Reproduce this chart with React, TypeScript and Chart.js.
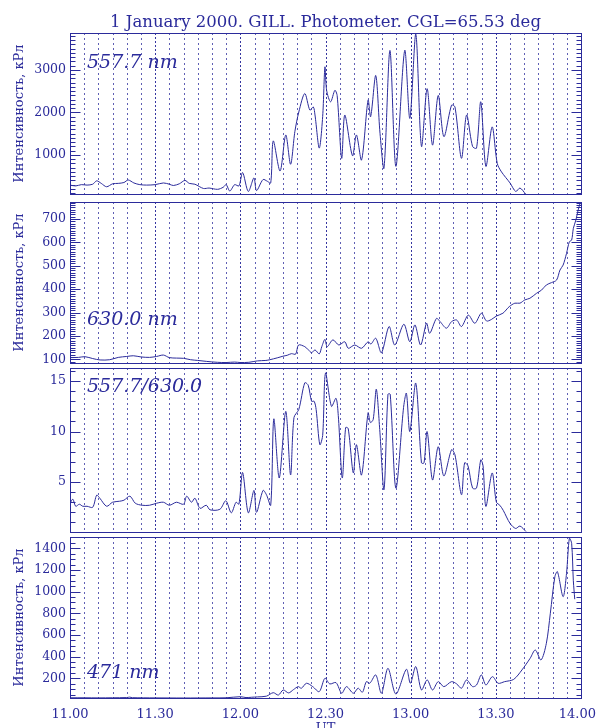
import React, { useEffect, useRef } from 'react';
import { Chart, registerables } from 'chart.js';

Chart.register(...registerables);

const BLUE = '#2b2b9b';
const SERIF = '"DejaVu Serif", "Liberation Serif", serif';

const TITLE = '1 January 2000. GILL. Photometer. CGL=65.53 deg';
const Y_TITLE = 'Интенсивность, кРл';
const X_TITLE = 'UT';

// x axis: minutes after 11:00 UT
const X_MIN = 0;
const X_MAX = 180;
const X_TICKS = [0, 30, 60, 90, 120, 150, 180];
const X_TICK_LABELS = ['11.00', '11.30', '12.00', '12.30', '13.00', '13.30', '14.00'];
const GRID_STEP = 5;

// 557.7 nm
const T_5577 = [0, 2, 4, 6, 8, 9.4, 11, 12.9, 15, 17, 19, 20.5, 22.5, 24.6, 27, 30, 32.9, 35, 36.4, 38.5, 40.5, 42, 44, 47, 49, 52, 54, 55, 56.3, 58, 59.5, 60.8, 62.8, 64.8, 65.7, 68, 69.5, 70.7, 71.6, 74, 76, 77.7, 79.2, 80.6, 82.7, 84.5, 85.7, 86.3, 87.8, 89, 89.8, 90.4, 91.8, 93.3, 94.1, 95.7, 96.8, 99.5, 100.9, 102.7, 105, 105.9, 107.7, 109.2, 110.6, 112.7, 114.8, 117.9, 119.7, 121.8, 123.8, 125.8, 127.7, 129.7, 131.7, 134.4, 135.6, 137.9, 139.7, 141.8, 143.2, 144.7, 146.5, 148.7, 150.5, 152, 155, 157, 158.5, 160.6];
const V_5577 = [290, 270, 300, 290, 310, 390, 330, 250, 320, 330, 350, 410, 340, 300, 290, 300, 340, 310, 280, 320, 400, 330, 310, 210, 220, 190, 240, 300, 150, 300, 270, 585, 140, 460, 160, 420, 380, 340, 1330, 620, 1470, 780, 1545, 2010, 2445, 2055, 2130, 1940, 1160, 1900, 3070, 2520, 2250, 2520, 2400, 920, 1940, 980, 1470, 880, 2290, 1900, 2870, 1510, 690, 3460, 730, 3460, 1860, 3850, 1200, 2560, 1230, 2400, 1430, 2170, 2130, 920, 1940, 1200, 1160, 2250, 730, 1660, 800, 600, 340, 140, 220, 70];

// 630.0 nm
const T_6300 = [0, 3, 5.3, 8, 10.6, 14, 17, 20, 22.3, 25, 28, 30.5, 32.9, 35, 37.5, 40, 42.5, 45, 48, 51.9, 55, 58, 60, 63, 66, 69, 70.4, 73, 75, 76.5, 78, 79.5, 80.5, 82.7, 84, 85.1, 86.3, 87.8, 88.7, 89.8, 90.6, 92.6, 94.7, 96.8, 98, 100.3, 102.7, 105, 106, 107.7, 109.7, 112.4, 114.4, 117.6, 119.7, 121.5, 123.5, 125.6, 126.7, 129.1, 130.3, 132.6, 134.4, 136.2, 137.9, 140.3, 142.6, 144.9, 146.7, 148.4, 150.2, 152.5, 154.7, 156.7, 158.5, 160.2, 162, 164.3, 166.1, 167.8, 169.6, 171.4, 172.6, 173.7, 174.9, 175.9, 176.7, 177.3, 178.2, 179, 179.8];
const V_6300 = [107, 108, 111, 103, 97, 98, 108, 112, 115, 110, 108, 112, 118, 107, 105, 104, 98, 95, 91, 87, 86, 88, 86, 87, 93, 95, 98, 106, 113, 117, 124, 122, 161, 154, 140, 128, 140, 123, 154, 185, 154, 183, 161, 175, 147, 161, 147, 175, 165, 190, 128, 240, 161, 250, 175, 247, 161, 254, 211, 275, 262, 233, 261, 268, 240, 289, 254, 297, 264, 270, 285, 297, 325, 340, 340, 354, 361, 382, 396, 418, 428, 439, 482, 503, 553, 603, 610, 660, 696, 739, 772];

// 557.7 / 630.0
const T_RATIO = [0, 1, 2, 3.3, 4.5, 6, 8, 9.4, 10.5, 12.9, 15, 17.5, 19, 21.1, 23, 25.4, 28, 30.5, 32.9, 35, 37.5, 40, 41.1, 42.8, 44, 45.8, 48, 49.3, 52.8, 54.9, 56.8, 58.5, 59.5, 60.8, 62.8, 64.8, 65.7, 68, 69.2, 70.7, 71.8, 73.7, 76, 77.7, 78.9, 80.6, 82.7, 83.9, 85.1, 86, 86.7, 88, 89, 90, 92.1, 93.7, 94.5, 95.9, 97.1, 98, 99.8, 100.9, 102.7, 105, 105.8, 106.8, 107.9, 109.1, 110.6, 112, 112.8, 114.8, 117.5, 118.5, 119.7, 121.8, 123.8, 124.7, 125.8, 127.7, 129.7, 131.7, 134.4, 135.6, 137.9, 139, 140.2, 141.8, 143.2, 144.7, 145.5, 146.5, 148.7, 150.2, 151.4, 152.6, 155, 157, 158.5, 160.6];
const V_RATIO = [2.9, 3.3, 2.6, 2.8, 2.6, 2.6, 2.5, 3.7, 3.4, 2.6, 3.0, 3.1, 3.2, 3.6, 2.9, 2.7, 2.7, 2.9, 3.0, 2.7, 3.0, 2.8, 3.6, 3.0, 3.4, 2.4, 2.7, 2.25, 2.3, 3.15, 1.95, 3.0, 2.8, 5.95, 1.95, 4.17, 2.0, 4.17, 3.74, 2.7, 11.26, 5.4, 12.0, 5.7, 11.4, 12.2, 14.83, 14.6, 13.0, 13.0, 12.2, 8.7, 9.6, 15.8, 12.5, 13.3, 11.6, 5.4, 10.4, 10.3, 5.9, 8.7, 5.7, 11.86, 10.9, 11.2, 14.2, 10.2, 4.24, 13.7, 13.7, 4.4, 12.4, 13.8, 10.0, 14.8, 6.9, 6.9, 10.0, 5.2, 8.5, 5.6, 8.2, 7.7, 3.74, 6.9, 6.6, 4.4, 4.4, 7.2, 6.6, 2.58, 5.9, 3.0, 2.7, 2.2, 0.9, 0.4, 0.64, 0.1];

// 471 nm
const T_471 = [0, 5, 10, 15, 20, 21, 22, 30, 40, 50, 55, 60, 62, 64, 66, 69.2, 71.6, 73.4, 75.1, 77, 78.7, 80.4, 81.5, 83.3, 85.5, 87.8, 89.8, 91.5, 93.7, 95.7, 97.4, 99.8, 101.5, 103, 104.4, 105.6, 107.7, 109.7, 112, 114.8, 118.5, 119.9, 121.8, 123.8, 125.8, 127.7, 129.7, 131.7, 134.4, 136.2, 137.9, 139.7, 141.8, 143.2, 144.9, 146.5, 148.8, 150.8, 153.1, 156.3, 159.2, 162.1, 163.9, 165.9, 167.8, 169.2, 170.8, 171.7, 173.7, 174.9, 175.9, 176.7, 177.3, 177.8];
const V_471 = [20, 20, 19, 20, 22, 26, 21, 19, 18, 19, 20, 30, 22, 25, 28, 35, 67, 45, 92, 65, 95, 123, 108, 154, 123, 77, 200, 148, 160, 62, 123, 62, 108, 71, 169, 154, 231, 62, 292, 55, 283, 154, 308, 92, 185, 92, 169, 123, 169, 148, 108, 185, 123, 138, 231, 138, 215, 154, 169, 190, 277, 385, 461, 369, 523, 800, 1138, 1184, 953, 1169, 1492, 1446, 1100, 930];

// y tick values / labels
const Y1_TICKS = [1000, 2000, 3000];
const Y1_LABELS = ['1000', '2000', '3000'];
const Y2_TICKS = [100, 200, 300, 400, 500, 600, 700];
const Y2_LABELS = ['100', '200', '300', '400', '500', '600', '700'];
const Y3_TICKS = [5, 10, 15];
const Y3_LABELS = ['5', '10', '15'];
const Y4_TICKS = [200, 400, 600, 800, 1000, 1200, 1400];
const Y4_LABELS = ['200', '400', '600', '800', '1000', '1200', '1400'];

const LABEL_5577 = '557.7 nm';
const LABEL_6300 = '630.0 nm';
const LABEL_RATIO = '557.7/630.0';
const LABEL_471 = '471 nm';

const W = 598;

type Panel = {
  times: number[]; values: number[]; min: number; max: number;
  yTicks: number[]; yLabels: string[]; minorStep: number; majorStep: number;
  label: string; labelOff: number; yTitle: boolean;
  canvasTop: number; canvasH: number; padTop: number; padBottom: number;
  title?: boolean; xLabels?: boolean;
};

const PANELS: Panel[] = [
  { times: T_5577, values: V_5577, min: 80, max: 3870, yTicks: Y1_TICKS, yLabels: Y1_LABELS, minorStep: 100, majorStep: 1000,
    label: LABEL_5577, labelOff: 35, yTitle: true, canvasTop: 0, canvasH: 200, padTop: 33, padBottom: 6, title: true },
  { times: T_6300, values: V_6300, min: 84, max: 773, yTicks: Y2_TICKS, yLabels: Y2_LABELS, minorStep: 10, majorStep: 100,
    label: LABEL_6300, labelOff: 123, yTitle: true, canvasTop: 198, canvasH: 168, padTop: 4, padBottom: 3 },
  { times: T_RATIO, values: V_RATIO, min: 0.05, max: 16.3, yTicks: Y3_TICKS, yLabels: Y3_LABELS, minorStep: 1, majorStep: 5,
    label: LABEL_RATIO, labelOff: 23.5, yTitle: false, canvasTop: 366, canvasH: 168, padTop: 2, padBottom: 2 },
  { times: T_471, values: V_471, min: 18, max: 1504, yTicks: Y4_TICKS, yLabels: Y4_LABELS, minorStep: 50, majorStep: 200,
    label: LABEL_471, labelOff: 141, yTitle: true, canvasTop: 534, canvasH: 194, padTop: 3, padBottom: 30, xLabels: true },
];

function makeDecor(p: Panel) {
  return {
    id: 'decor',
    beforeDatasetsDraw(chart: any) {
      const { ctx, chartArea: ca } = chart;
      const x = chart.scales.x;
      ctx.save();
      ctx.strokeStyle = BLUE;
      ctx.lineWidth = 1;
      for (let m = X_MIN + GRID_STEP; m < X_MAX; m += GRID_STEP) {
        const px = Math.round(x.getPixelForValue(m)) + 0.5;
        const major = X_TICKS.includes(m);
        ctx.setLineDash(major ? [2, 2] : [2, 3]);
        ctx.globalAlpha = major ? 0.95 : 0.75;
        ctx.beginPath();
        ctx.moveTo(px, ca.top);
        ctx.lineTo(px, ca.bottom);
        ctx.stroke();
      }
      ctx.restore();
    },
    afterDatasetsDraw(chart: any) {
      const { ctx, chartArea: ca } = chart;
      const y = chart.scales.y;
      const x = chart.scales.x;
      ctx.save();
      ctx.strokeStyle = BLUE;
      ctx.fillStyle = BLUE;
      ctx.lineWidth = 1;
      ctx.setLineDash([]);
      const L = Math.round(ca.left) + 0.5;
      const R = Math.round(ca.right) + 0.5;
      const T = Math.round(ca.top) + 0.5;
      const B = Math.round(ca.bottom) + 0.5;
      ctx.strokeRect(L, T, R - L, B - T);
      // y tick marks, both sides, pointing inward
      const k0 = Math.ceil(p.min / p.minorStep);
      for (let k = k0; k * p.minorStep <= p.max; k++) {
        const v = k * p.minorStep;
        const major = Math.abs(v / p.majorStep - Math.round(v / p.majorStep)) < 1e-6;
        const py = Math.round(y.getPixelForValue(v)) + 0.5;
        const len = major ? 10 : 5;
        ctx.beginPath();
        ctx.moveTo(L, py); ctx.lineTo(L + len, py);
        ctx.moveTo(R, py); ctx.lineTo(R - len, py);
        ctx.stroke();
      }
      // panel label
      ctx.font = `italic 19px ${SERIF}`;
      ctx.textAlign = 'left';
      ctx.textBaseline = 'alphabetic';
      ctx.fillText(p.label, ca.left + 17, ca.top + p.labelOff);
      if (p.title) {
        ctx.font = `16.5px ${SERIF}`;
        ctx.textAlign = 'center';
        ctx.fillText(TITLE, (ca.left + ca.right) / 2, 26.5);
      }
      if (p.xLabels) {
        ctx.font = `13px ${SERIF}`;
        ctx.textAlign = 'left';
        X_TICKS.forEach((t, i) => {
          const txt = X_TICK_LABELS[i];
          const w = ctx.measureText(txt).width;
          let left = x.getPixelForValue(t) - w / 2;
          if (left + w > W - 2) left = W - 2 - w;
          ctx.fillText(txt, left, ca.bottom + 19.5);
        });
        ctx.textAlign = 'center';
        ctx.fillText(X_TITLE, (ca.left + ca.right) / 2, ca.bottom + 34);
      }
      ctx.restore();
    },
  };
}

function makeConfig(p: Panel): any {
  return {
    type: 'line',
    data: {
      datasets: [{
        data: p.times.map((t, i) => ({ x: t, y: p.values[i] })),
        borderColor: BLUE,
        borderWidth: 1,
        pointRadius: 0,
        tension: 0.3,
        fill: false,
      }],
    },
    options: {
      animation: false,
      responsive: false,
      maintainAspectRatio: false,
      layout: { padding: { left: 0, right: W - 581, top: p.padTop, bottom: p.padBottom } },
      plugins: { legend: { display: false }, tooltip: { enabled: false }, title: { display: false } },
      scales: {
        x: { type: 'linear', min: X_MIN, max: X_MAX, display: false },
        y: {
          type: 'linear',
          min: p.min,
          max: p.max,
          afterBuildTicks: (s: any) => { s.ticks = p.yTicks.map((v) => ({ value: v })); },
          afterFit: (s: any) => {
            s.width = 70;
            s.paddingTop = 0; s.paddingBottom = 0; s.paddingLeft = 0; s.paddingRight = 0;
          },
          grid: { display: false, drawTicks: false },
          border: { display: false },
          ticks: {
            autoSkip: false,
            padding: 4,
            color: BLUE,
            font: { family: SERIF, size: 12.5 },
            callback: (_v: any, i: number) => p.yLabels[i],
          },
          title: {
            display: p.yTitle,
            text: Y_TITLE,
            color: BLUE,
            font: { family: SERIF, size: 13 },
            padding: { top: 12, bottom: 0 },
          },
        },
      },
    },
    plugins: [makeDecor(p)],
  };
}

export default function App() {
  const refs = useRef<(HTMLCanvasElement | null)[]>([]);
  useEffect(() => {
    const charts = PANELS.map((p, i) => new Chart(refs.current[i] as HTMLCanvasElement, makeConfig(p)));
    return () => charts.forEach((c) => c.destroy());
  }, []);
  return (
    <div style={{ position: 'absolute', left: 0, top: 0, width: W, height: 728, background: '#fff', overflow: 'hidden' }}>
      {PANELS.map((p, i) => (
        <canvas
          key={i}
          ref={(el) => { refs.current[i] = el; }}
          width={W}
          height={p.canvasH}
          style={{ position: 'absolute', left: 0, top: p.canvasTop, width: W, height: p.canvasH, display: 'block' }}
        />
      ))}
    </div>
  );
}
